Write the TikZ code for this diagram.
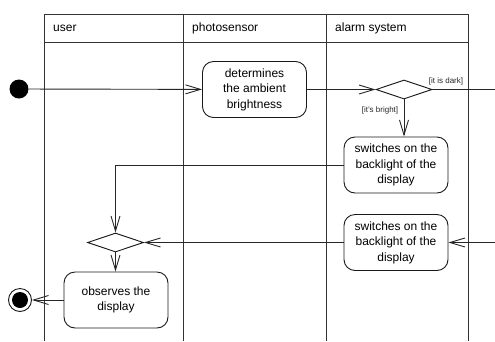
\documentclass[tikz,border=0pt]{standalone}
\usepackage{fontspec}
\setmainfont{Liberation Sans}
\usetikzlibrary{arrows.meta,shapes.geometric}
\begin{document}
\begin{tikzpicture}[x=1pt,y=-1pt,
  lane/.style={line width=0.8pt,draw=black!80},
  action/.style={draw=black!90,rounded corners=11pt,line width=0.9pt,minimum width=104pt,
    minimum height=56pt,inner sep=0pt,align=center,font=\fontsize{12}{15.5}\selectfont},
  decision/.style={diamond,draw=black!90,line width=0.9pt,minimum width=56pt,minimum height=19pt,inner sep=0pt},
  flow/.style={line width=0.9pt,draw=black!85,-{Straight Barb[length=15pt,width=9pt,line width=0.9pt]}},
  plainflow/.style={line width=0.9pt,draw=black!85},
  guard/.style={font=\fontsize{8}{9}\selectfont,inner sep=0pt,text=black!85},
  header/.style={anchor=west,inner sep=0pt,font=\fontsize{12}{14}\selectfont}]
  \path[use as bounding box] (0,0) rectangle (495,341);

  % swimlanes
  \draw[lane] (44,341) -- (44,14) -- (468,14) -- (468,341);
  \draw[lane] (44,42) -- (468,42);
  \draw[lane] (183,14) -- (183,341);
  \draw[lane] (326,14) -- (326,341);
  \node[header] (hUser) at (53,28) {user};
  \node[header] (hSensor) at (192,28) {photosensor};
  \node[header] (hAlarm) at (335,28) {alarm system};

  % nodes
  \node[circle,fill=black,minimum size=19pt,inner sep=0pt] (start) at (19,89) {};
  \node[action] (act1) at (254.5,89.5) {determines\\the ambient\\brightness};
  \node[decision] (dec1) at (404,89.5) {};
  \node[action] (act2) at (396,165) {switches on the\\backlight of the\\display};
  \node[action] (act3) at (396,242.5) {switches on the\\backlight of the\\display};
  \node[decision] (dec2) at (115.5,242.5) {};
  \node[action] (act4) at (116,300) {observes the\\display};
  \node[circle,draw=black!90,line width=0.9pt,minimum size=23pt,inner sep=0pt] (final) at (20,300) {};
  \node[circle,fill=black,minimum size=16pt,inner sep=0pt] (finalDot) at (20,300) {};
  \coordinate (darkOut) at (495,89.5);
  \coordinate (lightIn) at (495,242.5);

  % guards
  \node[guard] (gDark) at (446,81) {[it is dark]};
  \node[guard] (gBright) at (380,110) {[it's bright]};

  % flows
  \draw[flow] (start) -- (act1);
  \draw[flow] (act1) -- (dec1);
  \draw[plainflow] (dec1.east) -- (darkOut);
  \draw[flow] (dec1.south) -- (act2.north -| dec1.south);
  \draw[flow] (act2.west) -| (dec2.north);
  \draw[flow] (lightIn) -- (act3.east);
  \draw[flow] (act3.west) -- (dec2.east);
  \draw[flow] (dec2.south) -- (act4.north -| dec2.south);
  \draw[flow] (act4.west) -- (final.east);
\end{tikzpicture}
\end{document}
